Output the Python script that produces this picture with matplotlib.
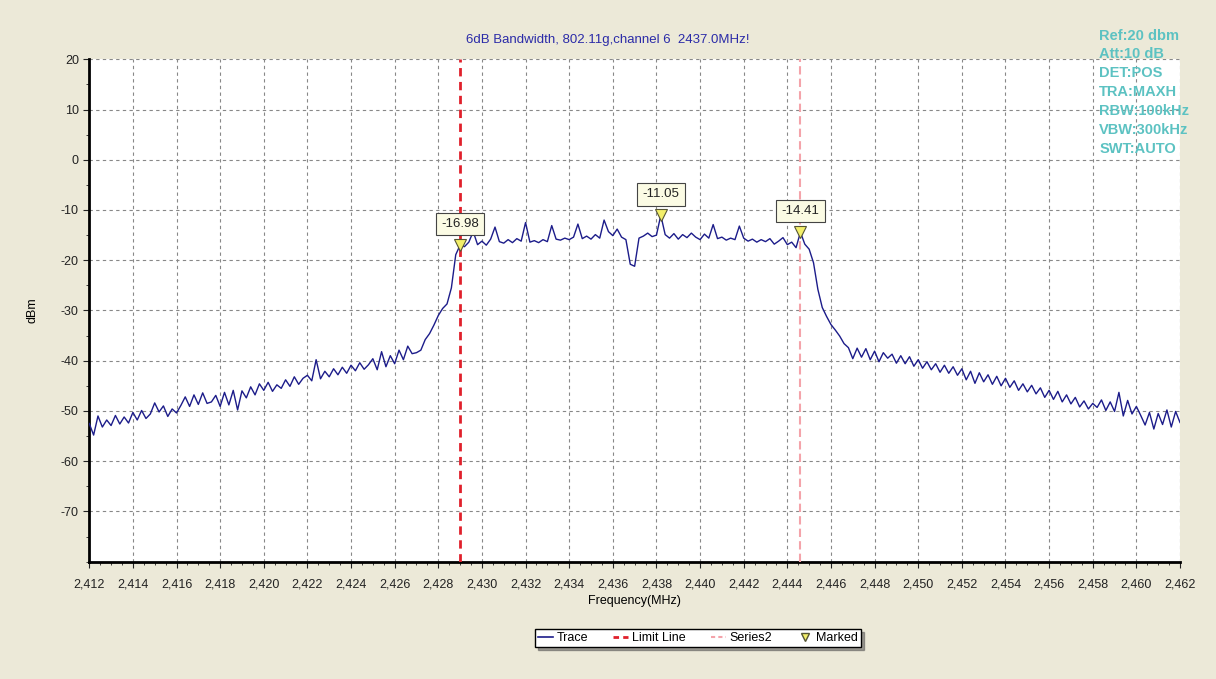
import numpy as np
import matplotlib
matplotlib.use("Agg")
import matplotlib.pyplot as plt
from matplotlib.lines import Line2D
from matplotlib.ticker import MultipleLocator, FuncFormatter

# sweep: 2412 .. 2462 MHz, one point every 0.2 MHz
freq_start = 2412.0
freq_step = 0.2

# trace levels (dBm), five points per MHz
trace_dbm = [
    -52.5, -54.8, -51.0, -53.2, -51.8,   # 2412
    -52.9, -50.9, -52.6, -51.2, -52.4,   # 2413
    -50.3, -51.8, -49.9, -51.5, -50.6,   # 2414
    -48.4, -50.2, -49.0, -51.1, -49.6,   # 2415
    -50.4, -48.9, -47.2, -49.1, -46.8,   # 2416
    -48.7, -46.4, -48.5, -48.2, -46.9,   # 2417
    -49.1, -46.3, -48.8, -45.9, -49.8,   # 2418
    -46.0, -47.4, -45.2, -46.8, -44.6,   # 2419
    -45.9, -44.3, -46.1, -44.8, -45.5,   # 2420
    -43.8, -45.1, -43.2, -44.7, -43.5,   # 2421
    -42.9, -44.0, -39.8, -43.6, -42.1,   # 2422
    -43.2, -41.6, -42.8, -41.3, -42.5,   # 2423
    -40.9, -42.0, -40.4, -41.7, -40.8,   # 2424
    -39.6, -41.8, -38.2, -41.2, -39.0,   # 2425
    -40.6, -37.9, -39.8, -37.1, -38.6,   # 2426
    -38.4, -37.9, -35.8, -34.6, -32.9,   # 2427
    -31.0, -29.6, -28.7, -25.5, -18.9,   # 2428
    -16.98, -17.3, -16.4, -14.3, -16.9,  # 2429
    -16.2, -17.0, -15.8, -13.4, -16.3,   # 2430
    -16.6, -15.9, -16.5, -15.7, -16.2,   # 2431
    -12.5, -16.4, -16.1, -16.5, -15.9,   # 2432
    -16.3, -13.1, -15.8, -16.0, -15.6,   # 2433
    -15.9, -15.4, -12.8, -15.7, -15.2,   # 2434
    -15.8, -14.9, -15.6, -12.0, -14.3,   # 2435
    -15.1, -13.8, -15.4, -15.9, -20.8,   # 2436
    -21.2, -15.6, -15.2, -14.6, -15.3,   # 2437
    -15.0, -11.05, -14.9, -15.6, -14.7,  # 2438
    -15.8, -14.9, -15.5, -14.6, -15.4,   # 2439
    -15.9, -14.8, -15.6, -12.9, -15.7,   # 2440
    -15.4, -16.0, -15.6, -15.9, -13.2,   # 2441
    -15.6, -16.2, -15.8, -16.4, -15.9,   # 2442
    -16.3, -15.7, -16.8, -16.2, -15.5,   # 2443
    -16.9, -16.4, -17.5, -14.41, -16.8,  # 2444
    -17.8, -20.5, -25.8, -29.4, -31.2,   # 2445
    -32.8, -33.9, -35.1, -36.6, -37.4,   # 2446
    -39.6, -37.5, -39.3, -37.6, -39.8,   # 2447
    -38.1, -40.2, -38.4, -39.5, -38.7,   # 2448
    -40.5, -39.0, -40.6, -39.2, -41.1,   # 2449
    -39.8, -41.5, -40.2, -41.8, -40.6,   # 2450
    -42.3, -40.9, -42.5, -41.2, -42.9,   # 2451
    -41.6, -43.8, -42.1, -44.5, -42.4,   # 2452
    -44.2, -42.8, -44.7, -43.1, -45.0,   # 2453
    -43.5, -45.3, -44.0, -45.9, -44.6,   # 2454
    -46.2, -44.9, -46.6, -45.4, -47.3,   # 2455
    -45.9, -47.7, -46.1, -48.2, -46.8,   # 2456
    -48.6, -47.3, -49.2, -48.0, -49.6,   # 2457
    -48.5, -49.3, -47.8, -49.9, -48.2,   # 2458
    -50.1, -46.3, -51.0, -47.9, -50.6,   # 2459
    -49.1, -50.9, -52.8, -50.3, -53.6,   # 2460
    -50.5, -52.7, -49.8, -53.2, -50.1,   # 2461
    -52.3,                               # 2462
]

limit_line_mhz = 2429.0
series2_mhz = 2444.6

marker_freqs = [2429.0, 2438.2, 2444.6]
marker_vals = [-16.98, -11.05, -14.41]

settings_text = ["Ref:20 dbm", "Att:10 dB", "DET:POS", "TRA:MAXH",
                 "RBW:100kHz", "VBW:300kHz", "SWT:AUTO"]

title = "6dB Bandwidth, 802.11g,channel 6  2437.0MHz!"

freqs = freq_start + freq_step * np.arange(len(trace_dbm))

plt.rcParams["font.family"] = ["Liberation Sans", "DejaVu Sans"]
plt.rcParams["axes.unicode_minus"] = False

bg = "#ece9d8"
trace_col = "#1c1c8a"

fig = plt.figure(figsize=(12.16, 6.79), dpi=100, facecolor=bg)
ax = fig.add_axes([0.0734, 0.1728, 0.8970, 0.7399])
ax.set_facecolor("white")

ax.plot(freqs, trace_dbm, color=trace_col, lw=1.0, zorder=3)
ax.axvline(limit_line_mhz, color="#e0202b", lw=2.0, ls=(0, (3, 2)), zorder=4)
ax.axvline(series2_mhz, color="#f4a3aa", lw=1.5, ls=(0, (4, 2)), zorder=4)

ax.plot(marker_freqs, marker_vals, ls="none", marker="v", ms=8,
        mfc="#f3ef6a", mec="#555533", mew=0.8, zorder=6)
for f, v in zip(marker_freqs, marker_vals):
    ax.annotate(f"{v:.2f}", (f, v), xytext=(0, 21), textcoords="offset pixels",
                ha="center", va="center", fontsize=9.5, color="#222222", zorder=7,
                bbox=dict(boxstyle="square,pad=0.4", fc="#fbfbe4", ec="#444444", lw=0.8))

ax.set_xlim(2412, 2462)
ax.set_ylim(-80, 20)
ax.set_xticks(np.arange(2412, 2463, 2))
ax.xaxis.set_minor_locator(MultipleLocator(0.5))
ax.set_yticks(np.arange(-70, 21, 10))
ax.yaxis.set_minor_locator(MultipleLocator(5))
ax.xaxis.set_major_formatter(FuncFormatter(lambda v, p: f"{int(round(v)):,}"))

ax.grid(True, which="major", color="#888888", ls=(0, (3, 3)), lw=0.8)
ax.tick_params(which="both", direction="out", labelsize=9, colors="#222222")
ax.tick_params(which="major", length=4)
ax.tick_params(which="minor", length=2)
ax.tick_params(axis="x", which="major", pad=8)

for s in ["top", "right"]:
    ax.spines[s].set_visible(False)
for s in ["left", "bottom"]:
    ax.spines[s].set_linewidth(2)
    ax.spines[s].set_color("black")

ax.set_xlabel("Frequency(MHz)", fontsize=9, labelpad=3)
ax.set_ylabel("dBm", fontsize=9, labelpad=16)

fig.text(0.50, 0.941, title, ha="center", va="center", fontsize=9.5, color="#2b2ba8")
fig.text(0.904, 0.958, "\n".join(settings_text), ha="left", va="top",
         fontsize=10.5, fontweight="bold", color="#5cc2c2", linespacing=1.45)

handles = [
    Line2D([], [], color=trace_col, lw=1.2),
    Line2D([], [], color="#e0202b", lw=2, ls=(0, (2, 1.5))),
    Line2D([], [], color="#f4a3aa", lw=1.5, ls=(0, (2, 1.5))),
    Line2D([], [], ls="none", marker="v", ms=6, mfc="#f3ef6a", mec="#555533"),
]
leg = fig.legend(handles, ["Trace", "Limit Line", "Series2", "Marked"],
                 loc="center", bbox_to_anchor=(0.574, 0.060), ncol=4, fontsize=9,
                 frameon=True, fancybox=False, shadow=True, handlelength=1.2,
                 handletextpad=0.3, columnspacing=2.0, borderpad=0.25)
leg.get_frame().set_edgecolor("black")
leg.get_frame().set_linewidth(1.0)

fig.savefig("out.png", dpi=100, facecolor=bg)
